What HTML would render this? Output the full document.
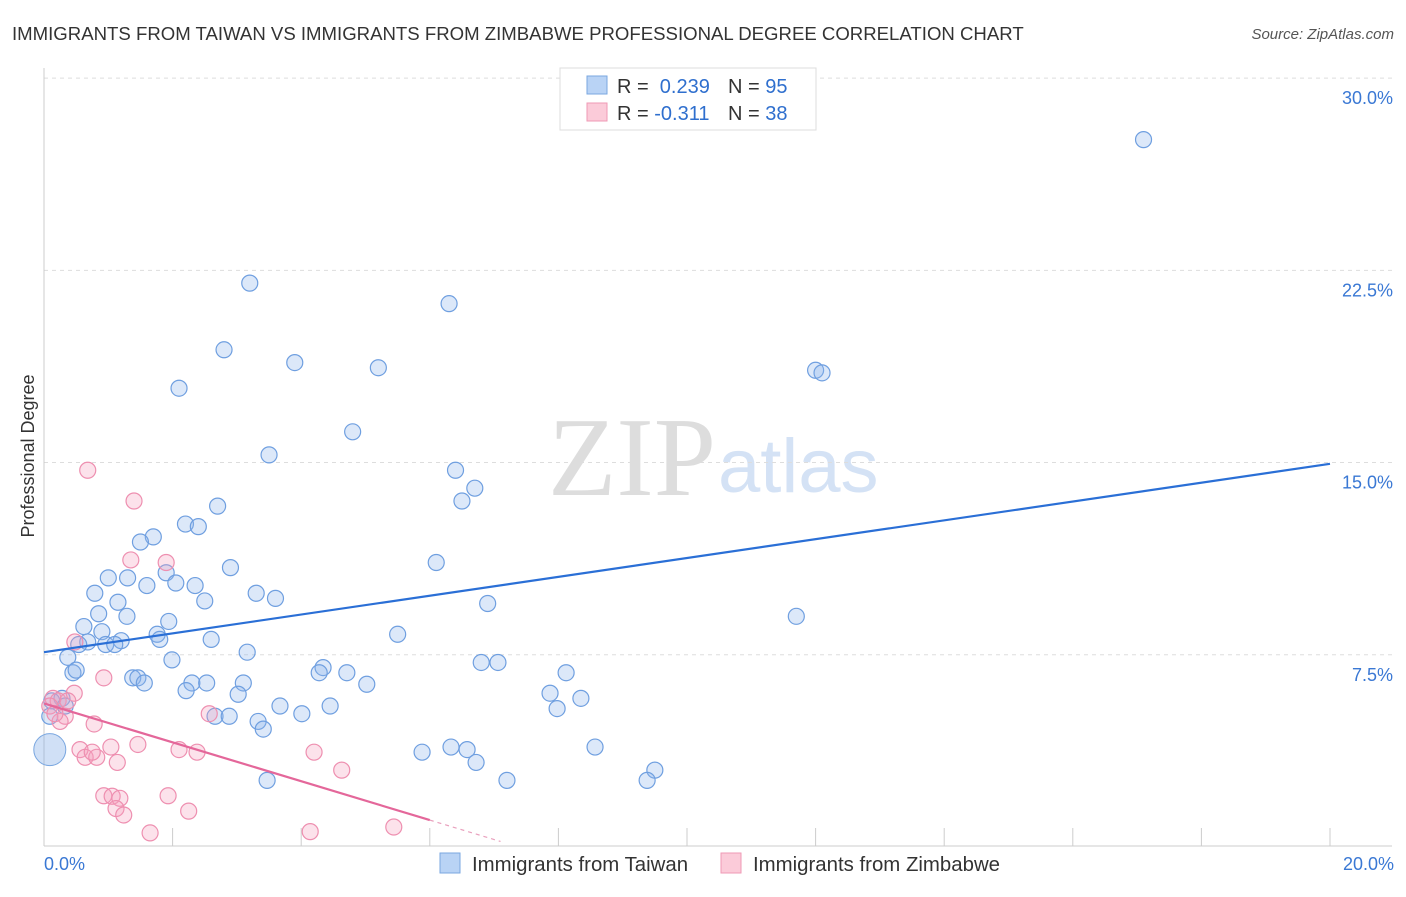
<!DOCTYPE html>
<html><head><meta charset="utf-8"><style>
body{margin:0;background:#fff;font-family:"Liberation Sans",sans-serif;}
</style></head><body>
<svg width="1406" height="892" xmlns="http://www.w3.org/2000/svg">
<text x="12" y="40" font-size="18.6" fill="#333">IMMIGRANTS FROM TAIWAN VS IMMIGRANTS FROM ZIMBABWE PROFESSIONAL DEGREE CORRELATION CHART</text>
<text x="1394" y="39" font-size="15" fill="#555" font-style="italic" text-anchor="end">Source: ZipAtlas.com</text>
<text x="716" y="495" font-size="112" fill="#ddd" text-anchor="end" font-family="Liberation Serif,serif">ZIP</text>
<text x="718" y="492" font-size="76" fill="#d4e2f5">atlas</text>
<g id="grid"></g>
<g id="marks"></g>
<text transform="translate(34,456) rotate(-90)" font-size="18" fill="#333" text-anchor="middle">Professional Degree</text>
<g>
<rect x="560" y="68" width="256" height="62" fill="#fff" stroke="#ddd"/>
<rect x="587" y="76" width="20" height="18" fill="#b9d3f5" stroke="#7aa7e0"/>
<rect x="587" y="103" width="20" height="18" fill="#fbcbd9" stroke="#ef9ab5"/>
<text x="617" y="93" font-size="20" fill="#333">R = <tspan fill="#2f6fce">&#160;0.239</tspan><tspan x="728">N = </tspan><tspan fill="#2f6fce">95</tspan></text>
<text x="617" y="120" font-size="20" fill="#333">R = <tspan fill="#2f6fce">-0.311</tspan><tspan x="728">N = </tspan><tspan fill="#2f6fce">38</tspan></text>
</g>
<g>
<rect x="440" y="853" width="20" height="20" fill="#b9d3f5" stroke="#7aa7e0"/>
<text x="472" y="871" font-size="20.4" fill="#333">Immigrants from Taiwan</text>
<rect x="721" y="853" width="20" height="20" fill="#fbcbd9" stroke="#ef9ab5"/>
<text x="753" y="871" font-size="20.4" fill="#333">Immigrants from Zimbabwe</text>
</g>
</svg>
<script>
const yTicks=[7.5,15,22.5,30];
const yTickLabels=["7.5%","15.0%","22.5%","30.0%"];
const xTickLabels=["0.0%","20.0%"];
const taiwanX=[17.1,3.2,6.3,2.8,3.9,5.2,2.1,12.0,12.1,4.8,3.5,6.4,6.7,6.5,2.7,2.2,2.4,1.7,1.5,6.1,2.9,1.0,1.3,1.9,2.05,1.6,2.35,3.3,3.6,0.79,2.5,1.15,6.9,0.85,1.29,1.94,11.7,0.62,0.9,1.76,1.8,2.6,5.5,0.68,1.2,0.54,0.96,1.1,3.16,0.37,1.99,6.8,7.06,4.34,4.28,4.71,8.12,0.45,0.5,1.38,1.46,1.56,2.3,2.53,3.1,5.02,2.21,3.02,7.87,8.35,0.28,0.12,3.67,4.45,7.98,2.66,2.88,4.01,3.33,3.41,0.09,0.33,6.33,5.88,6.58,8.57,6.72,9.5,9.38,3.47,7.2];
const taiwanY=[27.6,22.0,21.2,19.4,18.9,18.7,17.9,18.6,18.5,16.2,15.3,14.7,14.0,13.5,13.3,12.6,12.5,12.1,11.9,11.1,10.9,10.5,10.5,10.7,10.3,10.2,10.2,9.9,9.7,9.9,9.6,9.55,9.5,9.1,9.0,8.8,9.0,8.6,8.4,8.3,8.1,8.1,8.3,8.0,8.05,7.9,7.9,7.9,7.6,7.4,7.3,7.2,7.2,7.0,6.8,6.8,6.8,6.8,6.9,6.6,6.6,6.4,6.4,6.4,6.4,6.35,6.1,5.96,6.0,5.8,5.8,5.7,5.5,5.5,5.4,5.1,5.1,5.2,4.9,4.6,5.1,5.5,3.9,3.7,3.8,3.9,3.3,3.0,2.6,2.6,2.6];
const zimX=[0.68,1.4,1.35,1.9,0.48,0.93,0.47,0.14,0.22,0.37,0.33,0.25,0.78,2.57,1.46,1.04,0.56,0.64,0.82,0.75,1.14,2.1,2.38,4.2,4.63,0.93,1.06,1.18,1.93,1.12,2.25,1.24,1.65,4.14,5.44,0.09,0.17];
const zimY=[14.7,13.5,11.2,11.1,8.0,6.6,6.0,5.8,5.7,5.7,5.1,4.9,4.8,5.2,4.0,3.9,3.8,3.5,3.5,3.7,3.3,3.8,3.7,3.7,3.0,2.0,1.98,1.9,2.0,1.5,1.4,1.25,0.55,0.6,0.78,5.5,5.2];
const taiwanLine=[7.6,14.95];
const zimLine=[5.6,1.05];
const X0=44,X1=1330,Y0=847,YS=25.63;
const sx=v=>X0+(X1-X0)*v/20, sy=v=>Y0-v*YS;
const NS="http://www.w3.org/2000/svg";
const grid=document.getElementById('grid'),marks=document.getElementById('marks');
function el(t,a,p){const e=document.createElementNS(NS,t);for(const k in a)e.setAttribute(k,a[k]);p.appendChild(e);return e;}
yTicks.forEach((v,i)=>{
 const l=el('line',{x1:X0,x2:1392,y1:sy(v),y2:sy(v),stroke:'#ddd','stroke-dasharray':'4,4'},grid);
 
 
 const t=el('text',{x:1393,y:sy(v)+26,'font-size':18,fill:'#3a78d4','text-anchor':'end'},grid);
 t.textContent=yTickLabels[i];
 
 
});
const ax=el('line',{x1:X0,x2:X0,y1:68,y2:846,stroke:'#ccc'},grid);


const bx=el('line',{x1:X0,x2:1392,y1:846,y2:846,stroke:'#ccc'},grid);


for(let i=0;i<=10;i++){const t=el('line',{x1:sx(i*2),x2:sx(i*2),y1:828,y2:846,stroke:'#ccc'},grid);
 
 }
[[0,'start',44],[1,'end',1394]].forEach(([i,a,x])=>{const t=el('text',{x:x,y:870,'font-size':18,fill:'#3a78d4','text-anchor':a},grid);t.textContent=xTickLabels[i];
 
 });
const big=el('circle',{cx:sx(0.09),cy:sy(3.8),r:16,fill:'rgba(120,165,230,0.35)',stroke:'#7aa7e0'},marks);


taiwanX.forEach((x,i)=>{const c=el('circle',{cx:sx(x),cy:sy(taiwanY[i]),r:8,fill:'rgba(140,180,235,0.3)',stroke:'#6f9fe0','stroke-width':1.2},marks);
 
 });
zimX.forEach((x,i)=>{const c=el('circle',{cx:sx(x),cy:sy(zimY[i]),r:8,fill:'rgba(245,160,190,0.3)',stroke:'#ee8fb0','stroke-width':1.2},marks);
 
 });
const tl=el('line',{x1:sx(0),y1:sy(taiwanLine[0]),x2:sx(20),y2:sy(taiwanLine[1]),stroke:'#2a6fd6','stroke-width':2.2},marks);


const zs=(zimLine[1]-zimLine[0])/6;
const zl=el('line',{x1:sx(0),y1:sy(zimLine[0]),x2:sx(6),y2:sy(zimLine[1]),stroke:'#e4679a','stroke-width':2.2},marks);


const zd=el('line',{x1:sx(6),y1:sy(zimLine[1]),x2:sx(7.1),y2:sy(zimLine[1]+zs*1.1),stroke:'#e9a0bd','stroke-width':1.2,'stroke-dasharray':'4,4'},marks);


</script>
</body></html>
